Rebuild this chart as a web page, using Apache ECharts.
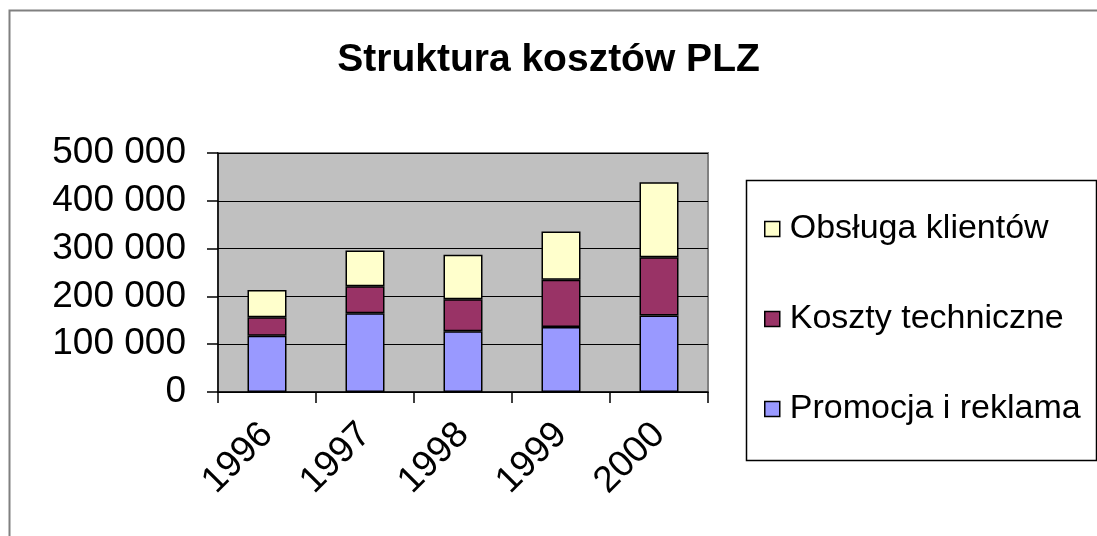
<!DOCTYPE html>
<html>
<head>
<meta charset="utf-8">
<script src="https://cdn.jsdelivr.net/npm/echarts@6/dist/echarts.min.js"></script>
<style>
html,body{margin:0;padding:0;background:#fff;}
#chart{width:1097px;height:536px;}
</style>
</head>
<body>
<div id="chart"></div>
<script>
const categories = ['1996', '1997', '1998', '1999', '2000'];
const promocja = [117500, 165000, 127000, 136000, 160000];
const koszty = [39000, 56000, 67000, 99000, 122000];
const obsluga = [57000, 75000, 93000, 101000, 157000];
const seriesNames = ['Promocja i reklama', 'Koszty techniczne', 'Obsługa klientów'];
const legendOrder = ['Obsługa klientów', 'Koszty techniczne', 'Promocja i reklama'];
const yTicks = [0, 100000, 200000, 300000, 400000, 500000];

const FONT = "'Liberation Sans', Arial, sans-serif";
const chart = echarts.init(document.getElementById('chart'), null, {renderer: 'canvas'});

function fmt(v) {
  return String(v).replace(/\B(?=(\d{3})+(?!\d))/g, ' ');
}

const colors = ['#9999ff', '#993366', '#ffffcc'];
const datas = [promocja, koszty, obsluga];

chart.setOption({
  animation: false,
  backgroundColor: '#ffffff',
  title: {
    text: 'Struktura kosztów PLZ',
    left: 'center',
    top: 36,
    textStyle: {fontFamily: FONT, fontSize: 39, fontWeight: 'bold', color: '#000'}
  },
  graphic: [
    {type: 'rect', shape: {x: 9.5, y: 10.5, width: 1200, height: 700},
     style: {fill: 'none', stroke: '#808080', lineWidth: 2}, silent: true, z: -10},
    {type: 'rect', shape: {x: 746.5, y: 180.5, width: 350, height: 280},
     style: {fill: '#fff', stroke: '#000', lineWidth: 1.5}, silent: true, z: 0}
  ],
  legend: {
    orient: 'vertical',
    left: 764,
    top: 209,
    padding: 0,
    itemGap: 50,
    itemWidth: 15,
    itemHeight: 15,
    data: legendOrder,
    icon: 'rect',
    itemStyle: {borderColor: '#000', borderWidth: 1.5},
    textStyle: {fontFamily: FONT, fontSize: 34, color: '#000', lineHeight: 40, padding: [0, 0, 0, 5]},
    z: 5
  },
  grid: {
    left: 218, right: 389, top: 153, bottom: 144,
    show: true,
    backgroundColor: '#c0c0c0',
    borderColor: '#808080',
    borderWidth: 2
  },
  xAxis: {
    type: 'category',
    data: categories,
    boundaryGap: true,
    axisLine: {show: true, lineStyle: {color: '#000', width: 1.5}},
    axisTick: {show: true, alignWithLabel: false, length: 11, lineStyle: {color: '#000', width: 1.5}},
    axisLabel: {
      rotate: 45, margin: 37, interval: 0,
      fontFamily: FONT, fontSize: 37, color: '#000'
    },
    splitLine: {show: false}
  },
  yAxis: {
    type: 'value',
    min: yTicks[0],
    max: yTicks[yTicks.length - 1],
    interval: yTicks[1] - yTicks[0],
    axisLine: {show: true, lineStyle: {color: '#000', width: 1.5}},
    axisTick: {show: true, length: 11, lineStyle: {color: '#000', width: 1.5}},
    axisLabel: {margin: 32, fontFamily: FONT, fontSize: 37, color: '#000', formatter: fmt},
    splitLine: {show: true, lineStyle: {color: '#000', width: 1.2}}
  },
  series: seriesNames.map((name, i) => ({
    name: name,
    type: 'bar',
    stack: 'total',
    barWidth: 39,
    data: datas[i],
    itemStyle: {color: colors[i], borderColor: '#000', borderWidth: 1.5}
  }))
});
</script>
</body>
</html>
